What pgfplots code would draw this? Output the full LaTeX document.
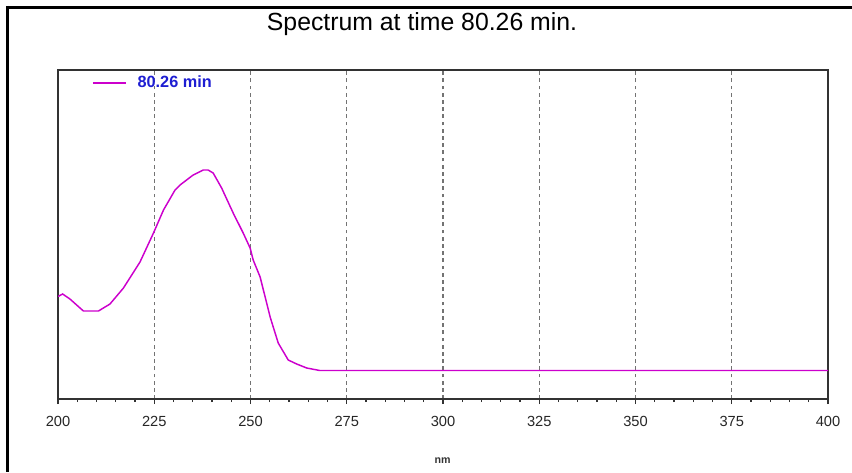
\documentclass[border=0pt]{standalone}
\usepackage{fontspec}
\setmainfont{Liberation Sans}
\usepackage{pgfplots}
\pgfplotsset{compat=1.18}
\definecolor{specmag}{RGB}{204,0,204}
\definecolor{legblue}{RGB}{30,30,210}
\definecolor{framegray}{RGB}{50,50,50}
\begin{document}
\begin{tikzpicture}
\useasboundingbox (0pt,0pt) rectangle (639pt,-354pt);
% window border (top and left)
\draw[line width=2.4pt,black] (5pt,-5.6pt) -- (639pt,-5.6pt);
\draw[line width=2.4pt,black] (5.9pt,-4.4pt) -- (5.9pt,-354pt);
\node[font=\fontsize{18.6}{22}\selectfont] at (316.5pt,-18.3pt) {Spectrum at time 80.26 min.};
\node[font=\fontsize{8}{10}\selectfont\bfseries, text=black!80] at (332pt,-345.5pt) {nm};
\begin{axis}[
    at={(43.5pt,-299.25pt)}, anchor=south west,
    scale only axis,
    width=577.5pt, height=246.75pt,
    xmin=200, xmax=400, ymin=0, ymax=329,
    xtick={200,225,...,400},
    minor x tick num=4,
    ytick=\empty,
    xtick pos=bottom,
    tick align=outside,
    major tick length=3.8pt,
    minor tick length=2.3pt,
    every tick/.style={framegray, line width=0.9pt},
    axis line style={framegray, line width=1.1pt},
    xmajorgrids,
    major grid style={black!55, line width=0.8pt, dash pattern=on 2.8pt off 2.6pt},
    /pgf/number format/assume math mode=true,
    xticklabel style={font=\fontsize{11}{13}\selectfont, text=black!85, yshift=-5.5pt},
    legend style={at={(0.044,0.9605)}, anchor=west, draw=none, fill=none,
        inner sep=0pt, font=\fontsize{12.2}{14}\selectfont\bfseries, text=legblue,
        /tikz/every odd column/.append style={column sep=6pt}},
    legend cell align=left,
    legend image code/.code={\draw[#1] (0pt,0pt) -- (25pt,0pt);},
]
\addplot[specmag, line width=1.1pt] coordinates {
(200.0,102.5) (201.2,105) (203.1,100) (206.6,88) (210.5,88) (213.5,95)
(217.0,111) (221.3,137) (224.8,166) (227.4,189) (230.4,209) (231.7,214)
(235.1,224) (237.7,229) (239.0,229) (240.3,226) (242.5,211) (245.5,186)
(248.1,166) (249.9,151) (250.7,139) (252.5,122) (255.1,82) (257.2,56)
(259.8,39) (262.0,35) (264.6,31) (268.0,28.5) (300,28.5) (350,28.5) (400,28.5)
};
\legend{80.26 min}
\end{axis}
\end{tikzpicture}
\end{document}
